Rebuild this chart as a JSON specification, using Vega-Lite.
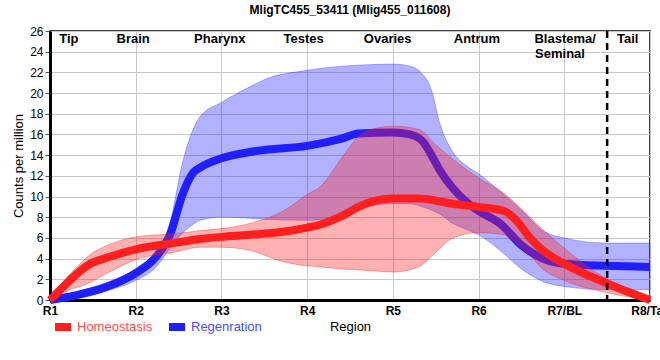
{
  "$schema": "https://vega.github.io/schema/vega-lite/v6.json",
  "width": 600,
  "height": 269,
  "autosize": {"type": "none"},
  "padding": {"left": 50, "top": 31, "right": 10, "bottom": 60},
  "config": {
    "font": "Liberation Sans",
    "view": {"stroke": "black", "strokeWidth": 1.5},
    "axis": {"gridColor": "#c8c8c8", "gridWidth": 1, "domainColor": "black", "domainWidth": 3, "labelColor": "black", "titleColor": "black", "labelOverlap": false},
    "axisY": {"values": [0, 2, 4, 6, 8, 10, 12, 14, 16, 18, 20, 22, 24, 26], "titleFontSize": 13, "titleFontWeight": "normal", "titlePadding": 4, "labelFontSize": 12, "tickSize": 5, "tickColor": "#555555", "labelPadding": 2, "labelFlush": false},
    "axisX": {"values": [1, 2, 3, 4, 5, 6, 7, 8], "titleFontSize": 13, "titleFontWeight": "normal", "titlePadding": 4, "labelFontSize": 12, "labelFontWeight": "bold", "ticks": false, "labelPadding": 5, "labelFlush": false}
  },
  "title": {"text": "MligTC455_53411 (Mlig455_011608)", "fontSize": 12, "fontWeight": "bold", "font": "Liberation Sans", "anchor": "middle", "baseline": "alphabetic", "offset": 8, "dy": 9, "color": "black", "frame": "group"},
  "datasets": {
    "bands": [
      {"g": "Homeostasis", "x": 1.0, "y": 0, "lo": 0, "hi": 0},
      {"g": "Homeostasis", "x": 1.12, "y": 1.0, "lo": 0.5, "hi": 1.4},
      {"g": "Homeostasis", "x": 1.23, "y": 1.9, "lo": 1.0, "hi": 2.5},
      {"g": "Homeostasis", "x": 1.35, "y": 2.8, "lo": 1.3, "hi": 3.5},
      {"g": "Homeostasis", "x": 1.47, "y": 3.5, "lo": 1.7, "hi": 4.4},
      {"g": "Homeostasis", "x": 1.67, "y": 4.1, "lo": 2.6, "hi": 5.3},
      {"g": "Homeostasis", "x": 2.0, "y": 4.9, "lo": 3.9, "hi": 6.1},
      {"g": "Homeostasis", "x": 2.44, "y": 5.5, "lo": 4.6, "hi": 6.4},
      {"g": "Homeostasis", "x": 2.75, "y": 5.9, "lo": 5.1, "hi": 6.7},
      {"g": "Homeostasis", "x": 3.0, "y": 6.1, "lo": 5.1, "hi": 6.9},
      {"g": "Homeostasis", "x": 3.33, "y": 6.3, "lo": 4.8, "hi": 7.4},
      {"g": "Homeostasis", "x": 3.72, "y": 6.6, "lo": 3.7, "hi": 8.6},
      {"g": "Homeostasis", "x": 4.0, "y": 7.0, "lo": 3.3, "hi": 10.2},
      {"g": "Homeostasis", "x": 4.16, "y": 7.3, "lo": 3.2, "hi": 11.0},
      {"g": "Homeostasis", "x": 4.4, "y": 8.1, "lo": 3.0, "hi": 13.7},
      {"g": "Homeostasis", "x": 4.6, "y": 9.0, "lo": 2.9, "hi": 15.8},
      {"g": "Homeostasis", "x": 4.8, "y": 9.6, "lo": 2.8, "hi": 16.6},
      {"g": "Homeostasis", "x": 5.0, "y": 9.8, "lo": 2.7, "hi": 16.8},
      {"g": "Homeostasis", "x": 5.3, "y": 9.8, "lo": 3.2, "hi": 16.5},
      {"g": "Homeostasis", "x": 5.5, "y": 9.6, "lo": 4.6, "hi": 15.0},
      {"g": "Homeostasis", "x": 5.7, "y": 9.3, "lo": 6.0, "hi": 13.6},
      {"g": "Homeostasis", "x": 6.0, "y": 9.0, "lo": 6.5, "hi": 11.8},
      {"g": "Homeostasis", "x": 6.3, "y": 8.6, "lo": 6.3, "hi": 10.3},
      {"g": "Homeostasis", "x": 6.45, "y": 7.6, "lo": 5.4, "hi": 9.2},
      {"g": "Homeostasis", "x": 6.6, "y": 6.0, "lo": 4.3, "hi": 8.0},
      {"g": "Homeostasis", "x": 6.75, "y": 4.8, "lo": 3.0, "hi": 6.8},
      {"g": "Homeostasis", "x": 7.0, "y": 3.5, "lo": 1.9, "hi": 5.0},
      {"g": "Homeostasis", "x": 7.5, "y": 1.6, "lo": 0.7, "hi": 2.0},
      {"g": "Homeostasis", "x": 8.0, "y": 0.0, "lo": 0.0, "hi": 0.3},
      {"g": "Regenration", "x": 1.0, "y": 0, "lo": 0, "hi": 0},
      {"g": "Regenration", "x": 1.27, "y": 0.4, "lo": 0.1, "hi": 0.7},
      {"g": "Regenration", "x": 1.67, "y": 1.3, "lo": 0.9, "hi": 1.7},
      {"g": "Regenration", "x": 2.0, "y": 2.6, "lo": 1.9, "hi": 3.0},
      {"g": "Regenration", "x": 2.24, "y": 4.2, "lo": 3.2, "hi": 4.7},
      {"g": "Regenration", "x": 2.4, "y": 6.3, "lo": 5.0, "hi": 7.5},
      {"g": "Regenration", "x": 2.55, "y": 10.3, "lo": 6.5, "hi": 13.4},
      {"g": "Regenration", "x": 2.67, "y": 12.3, "lo": 7.3, "hi": 16.5},
      {"g": "Regenration", "x": 2.75, "y": 12.8, "lo": 7.7, "hi": 17.7},
      {"g": "Regenration", "x": 3.0, "y": 13.7, "lo": 8.0, "hi": 19.1},
      {"g": "Regenration", "x": 3.33, "y": 14.3, "lo": 7.9, "hi": 20.6},
      {"g": "Regenration", "x": 3.5, "y": 14.5, "lo": 7.8, "hi": 21.3},
      {"g": "Regenration", "x": 4.0, "y": 14.9, "lo": 7.7, "hi": 22.2},
      {"g": "Regenration", "x": 4.4, "y": 15.6, "lo": 8.0, "hi": 22.6},
      {"g": "Regenration", "x": 4.6, "y": 16.1, "lo": 8.8, "hi": 22.7},
      {"g": "Regenration", "x": 5.0, "y": 16.2, "lo": 9.3, "hi": 22.8},
      {"g": "Regenration", "x": 5.2, "y": 16.0, "lo": 9.3, "hi": 22.6},
      {"g": "Regenration", "x": 5.35, "y": 15.3, "lo": 9.0, "hi": 21.8},
      {"g": "Regenration", "x": 5.45, "y": 14.0, "lo": 8.7, "hi": 20.3},
      {"g": "Regenration", "x": 5.55, "y": 12.5, "lo": 8.3, "hi": 17.0},
      {"g": "Regenration", "x": 5.7, "y": 10.8, "lo": 7.4, "hi": 14.3},
      {"g": "Regenration", "x": 5.87, "y": 9.4, "lo": 6.8, "hi": 12.9},
      {"g": "Regenration", "x": 6.0, "y": 8.6, "lo": 6.3, "hi": 12.2},
      {"g": "Regenration", "x": 6.25, "y": 7.4, "lo": 4.8, "hi": 10.5},
      {"g": "Regenration", "x": 6.5, "y": 5.3, "lo": 3.0, "hi": 8.7},
      {"g": "Regenration", "x": 6.75, "y": 4.0, "lo": 1.8, "hi": 6.7},
      {"g": "Regenration", "x": 7.0, "y": 3.5, "lo": 1.3, "hi": 6.0},
      {"g": "Regenration", "x": 7.5, "y": 3.3, "lo": 1.0, "hi": 5.5},
      {"g": "Regenration", "x": 8.0, "y": 3.2, "lo": 1.0, "hi": 5.5}
    ],
    "labels": [
      {"x": 1.22, "y": 24.8, "t": "Tip"},
      {"x": 1.97, "y": 24.8, "t": "Brain"},
      {"x": 2.98, "y": 24.8, "t": "Pharynx"},
      {"x": 3.96, "y": 24.8, "t": "Testes"},
      {"x": 4.94, "y": 24.8, "t": "Ovaries"},
      {"x": 5.98, "y": 24.8, "t": "Antrum"},
      {"x": 7.01, "y": 24.8, "t": "Blastema/"},
      {"x": 6.95, "y": 23.4, "t": "Seminal"},
      {"x": 7.74, "y": 24.8, "t": "Tail"}
    ]
  },
  "layer": [
    {
      "data": {"name": "bands"},
      "transform": [{"filter": "datum.g == 'Regenration'"}],
      "mark": {"type": "area", "interpolate": "monotone", "fillOpacity": 0.35, "stroke": "#3030ff", "strokeOpacity": 0.35, "strokeWidth": 1},
      "encoding": {
        "x": {"field": "x", "type": "quantitative", "scale": {"domain": [1, 8], "nice": false, "zero": false},
          "axis": {"values": [1, 2, 3, 4, 5, 6, 7, 8], "labelExpr": "['R1','R2','R3','R4','R5','R6','R7/BL','R8/Tail'][datum.value - 1]", "title": "Region"}},
        "y": {"field": "lo", "type": "quantitative", "scale": {"domain": [0, 26], "nice": false},
          "axis": {"values": [0, 2, 4, 6, 8, 10, 12, 14, 16, 18, 20, 22, 24, 26], "title": "Counts per million", "labelOverlap": false}},
        "y2": {"field": "hi"},
        "color": {"field": "g", "type": "nominal", "scale": {"domain": ["Homeostasis", "Regenration"], "range": ["#ff1f1f", "#1f1fff"]},
          "legend": {"orient": "none", "legendX": 5, "legendY": 288, "direction": "horizontal", "title": null, "symbolType": "M-1,-0.5H1V0.5H-1Z", "symbolSize": 256, "symbolStrokeWidth": 0, "symbolOpacity": 1, "labelFontSize": 13, "labelOffset": 6, "columnPadding": 16, "labelColor": {"expr": "datum.label == 'Homeostasis' ? '#ff4d4d' : '#4d4dff'"}}}
      }
    },
    {
      "data": {"name": "bands"},
      "transform": [{"filter": "datum.g == 'Regenration'"}],
      "mark": {"type": "line", "interpolate": "monotone", "strokeWidth": 8},
      "encoding": {
        "x": {"field": "x", "type": "quantitative"},
        "y": {"field": "y", "type": "quantitative", "axis": {"values": [0, 2, 4, 6, 8, 10, 12, 14, 16, 18, 20, 22, 24, 26], "title": "Counts per million", "labelOverlap": false}},
        "color": {"field": "g", "type": "nominal"}
      }
    },
    {
      "data": {"name": "bands"},
      "transform": [{"filter": "datum.g == 'Homeostasis'"}],
      "mark": {"type": "area", "interpolate": "monotone", "fillOpacity": 0.35, "stroke": "#e02020", "strokeOpacity": 0.35, "strokeWidth": 1},
      "encoding": {
        "x": {"field": "x", "type": "quantitative"},
        "y": {"field": "lo", "type": "quantitative", "axis": {"values": [0, 2, 4, 6, 8, 10, 12, 14, 16, 18, 20, 22, 24, 26], "title": "Counts per million", "labelOverlap": false}},
        "y2": {"field": "hi"},
        "color": {"field": "g", "type": "nominal"}
      }
    },
    {
      "data": {"name": "bands"},
      "transform": [{"filter": "datum.g == 'Homeostasis'"}],
      "mark": {"type": "line", "interpolate": "monotone", "strokeWidth": 8},
      "encoding": {
        "x": {"field": "x", "type": "quantitative"},
        "y": {"field": "y", "type": "quantitative", "axis": {"values": [0, 2, 4, 6, 8, 10, 12, 14, 16, 18, 20, 22, 24, 26], "title": "Counts per million", "labelOverlap": false}},
        "color": {"field": "g", "type": "nominal"}
      }
    },
    {
      "data": {"values": [{"x": 7.5}]},
      "mark": {"type": "rule", "color": "black", "strokeWidth": 2.5, "strokeDash": [7, 5]},
      "encoding": {"x": {"field": "x", "type": "quantitative"}}
    },
    {
      "data": {"name": "labels"},
      "mark": {"type": "text", "fontSize": 13, "fontWeight": "bold", "baseline": "alphabetic", "align": "center", "color": "black"},
      "encoding": {
        "x": {"field": "x", "type": "quantitative"},
        "y": {"field": "y", "type": "quantitative", "axis": {"values": [0, 2, 4, 6, 8, 10, 12, 14, 16, 18, 20, 22, 24, 26], "title": "Counts per million", "labelOverlap": false}},
        "text": {"field": "t"}
      }
    }
  ]
}
